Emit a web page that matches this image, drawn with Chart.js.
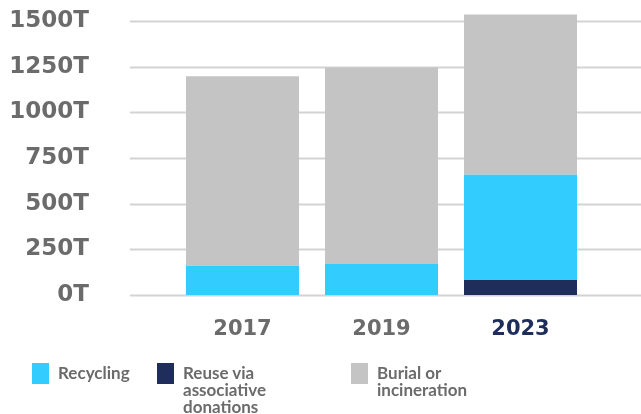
<!DOCTYPE html>
<html>
<head>
<meta charset="utf-8">
<script src="https://cdn.jsdelivr.net/npm/chart.js@4/dist/chart.umd.min.js"></script>
<style>
  html, body { margin: 0; padding: 0; background: #fff; }
  #wrap { position: relative; width: 641px; height: 414px; overflow: hidden; }
  #legend { position: absolute; left: 0; top: 363px; width: 641px; height: 51px;
            font-family: Lato, "Open Sans", sans-serif; font-weight: 700; font-size: 17px;
            line-height: 17px; color: #6b6b6b; }
  .item { position: absolute; top: 0; }
  .box { position: absolute; top: 0; left: 0; width: 17px; height: 21px; }
  .txt { position: absolute; top: 1px; left: 26px; white-space: pre; }
</style>
</head>
<body>
<div id="wrap">
  <canvas id="chart" width="641" height="414"></canvas>
  <div id="legend"></div>
</div>
<script>
// Daten
const years = ['2017', '2019', '2023'];
const recycling = [160, 170, 576];
const reuse = [0, 0, 82];
const burial = [1037, 1075, 878];
const yTicks = [0, 250, 500, 750, 1000, 1250, 1500];

const seriesNames = ['Recycling', 'Reuse via\nassociative\ndonations', 'Burial or\nincineration'];
const seriesColors = ['#33ccff', '#1f2d5b', '#c4c4c4'];
const legendLeft = [32, 157, 351];

const gray = '#6b6b6b';
const navy = '#1f2d5b';

// Gitterlinien über die volle Breite
const fullGrid = {
  id: 'fullGrid',
  beforeDatasetsDraw(chart) {
    const y = chart.scales.y;
    const ctx = chart.ctx;
    ctx.save();
    ctx.strokeStyle = '#d3d3d3';
    ctx.lineWidth = 2;
    yTicks.forEach(v => {
      const py = Math.round(y.getPixelForValue(v)) + 0.5;
      ctx.beginPath();
      ctx.moveTo(130, py);
      ctx.lineTo(641, py);
      ctx.stroke();
    });
    ctx.restore();
  }
};

// Stapelreihenfolge: Wiederverwendung unten, dann Recycling, dann Deponie
const series = [
  { label: seriesNames[1], data: reuse, backgroundColor: seriesColors[1], legendIndex: 1 },
  { label: seriesNames[0], data: recycling, backgroundColor: seriesColors[0], legendIndex: 0 },
  { label: seriesNames[2], data: burial, backgroundColor: seriesColors[2], legendIndex: 2 }
];

const chart = new Chart(document.getElementById('chart'), {
  type: 'bar',
  data: {
    labels: years,
    datasets: series.map(ds => Object.assign({}, ds, { borderWidth: 0, clip: false, barPercentage: 0.813, categoryPercentage: 1 }))
  },
  options: {
    responsive: false,
    animation: false,
    layout: { padding: { top: 21, right: 51, left: 10, bottom: 0 } },
    plugins: { legend: { display: false }, tooltip: { enabled: false } },
    scales: {
      x: {
        stacked: true,
        grid: { display: false },
        border: { display: false },
        ticks: {
          padding: 14,
          color: ctx => ctx.index === 2 ? navy : gray,
          font: { family: 'DejaVu Sans', weight: 'bold', size: 21 }
        },
        afterFit: s => { s.height = 119; }
      },
      y: {
        stacked: true,
        min: 0,
        max: 1500,
        grid: { display: false },
        border: { display: false },
        afterBuildTicks: s => { s.ticks = yTicks.map(v => ({ value: v })); },
        ticks: {
          padding: 76,
          color: gray,
          font: { family: 'DejaVu Sans', weight: 'bold', size: 23 },
          callback: v => v + 'T'
        },
        afterFit: s => { s.width = 163; s.paddingTop = 0; s.paddingBottom = 0; }
      }
    }
  },
  plugins: [fullGrid]
});

// Legende
const legend = document.getElementById('legend');
chart.data.datasets.slice().sort((a, b) => a.legendIndex - b.legendIndex).forEach(ds => {
  const item = document.createElement('div');
  item.className = 'item';
  item.style.left = legendLeft[ds.legendIndex] + 'px';
  const box = document.createElement('div');
  box.className = 'box';
  box.style.background = ds.backgroundColor;
  const txt = document.createElement('div');
  txt.className = 'txt';
  txt.textContent = ds.label;
  item.appendChild(box);
  item.appendChild(txt);
  legend.appendChild(item);
});
</script>
</body>
</html>
